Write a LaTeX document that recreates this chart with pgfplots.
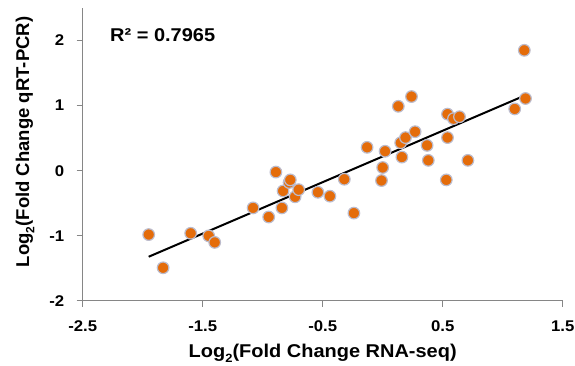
\documentclass[border=0pt]{standalone}
\usepackage{fontspec}
\setmainfont{Liberation Sans}[FakeStretch=1.08]
\newfontfamily\ylfont{Liberation Sans}
\usepackage{pgfplots}
\pgfplotsset{compat=1.18}
\definecolor{dotorange}{RGB}{228,108,10}
\definecolor{dotedge}{RGB}{188,188,205}
\definecolor{axgray}{RGB}{134,134,134}
\newcommand{\subtwo}{\raisebox{-0.28em}{\fontsize{12}{12}\selectfont 2}}
\begin{document}
\begin{tikzpicture}
\begin{axis}[name=ax, scale only axis, width=480pt, height=293pt,
  xmin=-2.5, xmax=1.5, ymin=-2, ymax=2.5,
  axis lines*=left,
  xtick={-2.5,-1.5,-0.5,0.5,1.5}, ytick={-2,-1,0,1,2},
  xticklabels={-2.5,-1.5,-0.5,0.5,1.5}, yticklabels={-2,-1,0,1,2},
  tick align=outside, major tick length=6pt,
  axis line style={axgray, line width=1pt},
  tick style={axgray, line width=1pt},
  ticklabel style={font=\bfseries\fontsize{15.5}{15.5}\selectfont, text=black},
  xticklabel style={yshift=-10pt},
  yticklabel style={xshift=-9pt},
  xlabel={Log\subtwo(Fold Change RNA-seq)},
  ylabel={\ylfont\bfseries Log\subtwo(Fold Change qRT-PCR)},
  xlabel style={font=\bfseries\fontsize{18.5}{18.5}\selectfont, at={(axis description cs:0.5,-0.193)}, anchor=base},
  ylabel style={font=\bfseries\fontsize{18.5}{18.5}\selectfont, at={(axis description cs:-0.120,0.543)}, anchor=center, rotate=0},
  clip=false,
]
\addplot[only marks, mark=*, mark size=5.8pt, mark options={fill=dotorange, draw=dotedge, line width=1.2pt}] coordinates {
(-1.95,-0.98) (-1.83,-1.49) (-1.60,-0.96) (-1.45,-1.00) (-1.40,-1.10)
(-1.08,-0.57) (-0.95,-0.71) (-0.89,-0.02) (-0.84,-0.57) (-0.83,-0.31)
(-0.78,-0.18) (-0.77,-0.14) (-0.73,-0.40) (-0.70,-0.29) (-0.54,-0.33)
(-0.44,-0.39) (-0.32,-0.13) (-0.24,-0.65) (-0.13,0.36) (0.00,0.05)
(-0.01,-0.15) (0.02,0.30) (0.13,0.99) (0.24,1.14) (0.15,0.43)
(0.19,0.51) (0.27,0.60) (0.16,0.21) (0.37,0.39) (0.38,0.16)
(0.54,0.87) (0.59,0.80) (0.64,0.83) (0.54,0.51) (0.71,0.16)
(0.53,-0.14) (1.10,0.95) (1.19,1.11) (1.18,1.85)
};
\addplot[black, line width=2pt] coordinates {(-1.95,-1.32) (1.19,1.16)};
\node[anchor=west, font=\bfseries\fontsize{18.5}{18.5}\selectfont] at (axis cs:-2.30,2.09) {R² = 0.7965};
\end{axis}
\pgfresetboundingbox
\path (ax.south west) ++(-82.7pt,-65pt) rectangle ++(575pt,366pt);
\end{tikzpicture}
\end{document}
